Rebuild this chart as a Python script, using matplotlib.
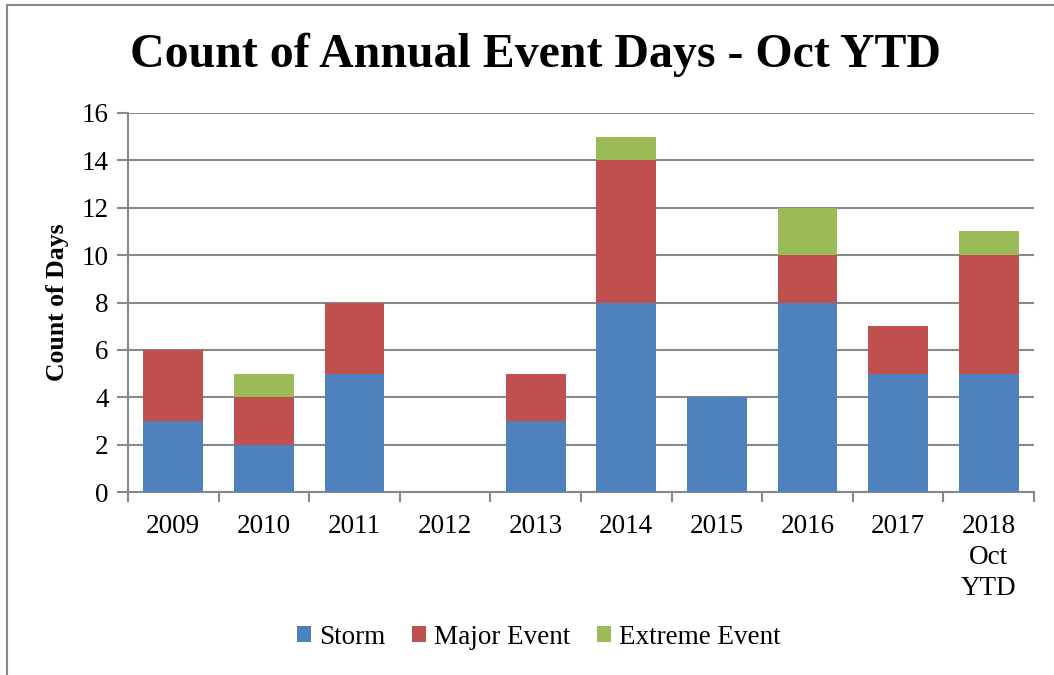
import matplotlib.pyplot as plt
import matplotlib.patches as mpatches
import numpy as np

plt.rcParams['font.family'] = ['Liberation Serif', 'DejaVu Serif']

# data
years = ['2009', '2010', '2011', '2012', '2013', '2014', '2015', '2016', '2017', '2018\nOct\nYTD']
storm = [3, 2, 5, 0, 3, 8, 4, 8, 5, 5]
major = [3, 2, 3, 0, 2, 6, 0, 2, 2, 5]
extreme = [0, 1, 0, 0, 0, 1, 0, 2, 0, 1]

c_storm = '#4F81BD'
c_major = '#C0504D'
c_extreme = '#9BBB59'
gray = '#888888'

fig = plt.figure(figsize=(10.54, 6.75), dpi=100)
ax = fig.add_axes([128/1054, 1-492/675, (1034-128)/1054, (492-113)/675])

x = np.arange(len(years))
w = 0.66
storm = np.array(storm)
major = np.array(major)
extreme = np.array(extreme)
ax.bar(x, storm, w, color=c_storm, label='Storm', zorder=3)
ax.bar(x, major, w, bottom=storm, color=c_major, label='Major Event', zorder=3)
ax.bar(x, extreme, w, bottom=storm + major, color=c_extreme, label='Extreme Event', zorder=3)

ax.set_xlim(-0.5, len(years) - 0.5)
ax.set_ylim(0, 16)
ax.set_yticks(range(0, 17, 2))
ax.set_xticks(x)
ax.set_xticklabels(years, fontsize=19.5, linespacing=1.3)
ax.set_xticks(np.arange(-0.5, len(years), 1), minor=True)
ax.tick_params(axis='x', which='major', length=0, pad=16)
ax.tick_params(axis='x', which='minor', length=7, width=1.5, color=gray, direction='out')
ax.tick_params(axis='y', length=8, width=1.5, color=gray, labelsize=19.5, pad=6)

ax.grid(axis='y', color=gray, linewidth=1.5, zorder=0)
for s in ['top', 'right']:
    ax.spines[s].set_visible(False)
for s in ['left', 'bottom']:
    ax.spines[s].set_color(gray)
    ax.spines[s].set_linewidth(1.5)

ax.set_ylabel('Count of Days', fontsize=18.5, fontweight='bold', labelpad=9)

fig.text(535/1054, 1-55/675, 'Count of Annual Event Days - Oct YTD', fontsize=34.5,
         fontweight='bold', ha='center', va='center')

handles, labels = ax.get_legend_handles_labels()
fig.legend(handles, labels, loc='center', bbox_to_anchor=(539/1054, 1-637/675), ncol=3,
           frameon=False, fontsize=19.5, handlelength=0.5, handleheight=0.5,
           handletextpad=0.3, columnspacing=1.0)

# outer chart border (only left and top edges visible in the crop)
fig.patches.append(mpatches.Rectangle((7/1054, -0.1), 1.2, 1 - 5/675 + 0.1, transform=fig.transFigure,
                                      fill=False, edgecolor=gray, linewidth=1.5))

fig.savefig('out.png', dpi=100)
